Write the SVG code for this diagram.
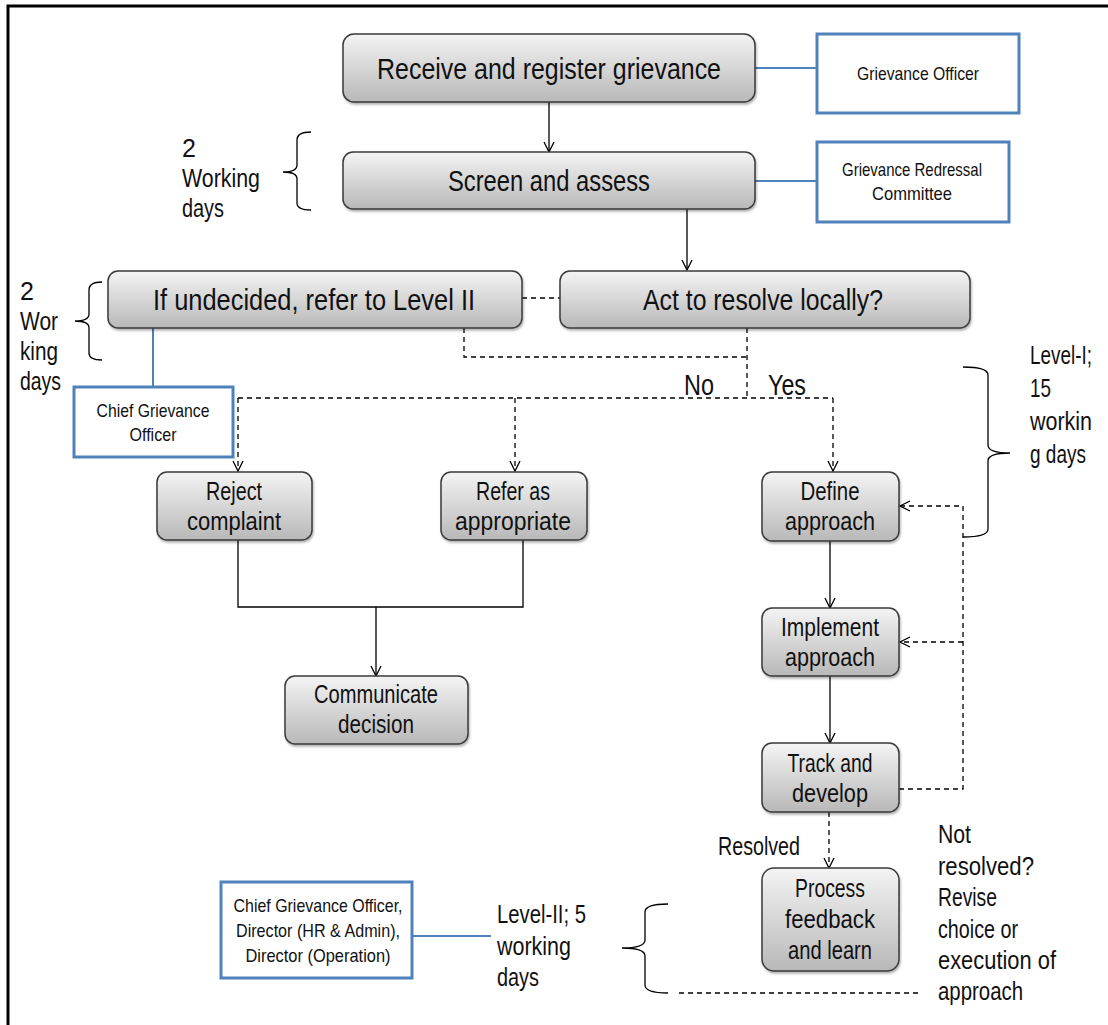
<svg xmlns="http://www.w3.org/2000/svg" width="1108" height="1025" viewBox="0 0 1108 1025">
<defs>
<linearGradient id="g" x1="0" y1="0" x2="0" y2="1">
<stop offset="0" stop-color="#f4f4f4"/>
<stop offset="1" stop-color="#b8b8b8"/>
</linearGradient>
<filter id="sh" x="-5%" y="-5%" width="110%" height="125%">
<feDropShadow dx="1" dy="2" stdDeviation="1.2" flood-color="#000" flood-opacity="0.3"/>
</filter>
<marker id="arr" markerUnits="userSpaceOnUse" markerWidth="14" markerHeight="14" refX="11" refY="6" orient="auto">
<path d="M1,1 L11,6 L1,11" fill="none" stroke="#000" stroke-width="1.3"/>
</marker>
</defs>
<style>
.n{fill:url(#g);stroke:#3a3a3a;stroke-width:1.5;filter:url(#sh)}
.b{fill:#fff;stroke:#4f81bd;stroke-width:3}
.t{font-family:"Liberation Sans",Arial,sans-serif;fill:#111;text-anchor:middle}
.l{font-family:"Liberation Sans",Arial,sans-serif;fill:#111}
.big{font-size:29px}
.mid{font-size:25px}
.sm{font-size:19px}
.lab{font-size:25px}
.s{fill:none;stroke:#000;stroke-width:1.3}
.d{fill:none;stroke:#000;stroke-width:1.3;stroke-dasharray:5,4}
.bl{fill:none;stroke:#4f81bd;stroke-width:2}
.br{fill:none;stroke:#000;stroke-width:1.3}
</style>
<path d="M8,1025 V6 H1108" fill="none" stroke="#000" stroke-width="3"/>

<g id="connectors">
<line class="s" x1="549" y1="102" x2="549" y2="152" marker-end="url(#arr)"/>
<line class="s" x1="687" y1="209" x2="687" y2="270" marker-end="url(#arr)"/>
<line class="bl" x1="755" y1="68" x2="817" y2="68"/>
<line class="bl" x1="755" y1="181" x2="817" y2="181"/>
<line class="bl" x1="153" y1="328" x2="153" y2="387"/>
<line class="bl" x1="412" y1="936" x2="491" y2="936"/>
<line class="d" x1="522" y1="298" x2="560" y2="298"/>
<path class="d" d="M464,328 V357 H747"/>
<line class="d" x1="747" y1="328" x2="747" y2="398"/>
<line class="d" x1="238" y1="398" x2="833" y2="398"/>
<line class="d" x1="238" y1="398" x2="238" y2="471" marker-end="url(#arr)"/>
<line class="d" x1="515" y1="398" x2="515" y2="471" marker-end="url(#arr)"/>
<line class="d" x1="833" y1="398" x2="833" y2="471" marker-end="url(#arr)"/>
<path class="s" d="M238,540 V607 H523 V540"/>
<line class="s" x1="376" y1="607" x2="376" y2="676" marker-end="url(#arr)"/>
<line class="s" x1="830" y1="541" x2="830" y2="608" marker-end="url(#arr)"/>
<line class="s" x1="830" y1="676" x2="830" y2="743" marker-end="url(#arr)"/>
<line class="d" x1="829" y1="812" x2="829" y2="868" marker-end="url(#arr)"/>
<path class="d" d="M899,789 H963 V506 H900" marker-end="url(#arr)"/>
<line class="d" x1="963" y1="642" x2="900" y2="642" marker-end="url(#arr)"/>
<line class="d" x1="679" y1="993" x2="920" y2="993"/>
<path class="br" d="M311,132 Q297,132 297,140 V165 Q297,172 283,172 Q297,172 297,179 V203 Q297,210 311,210"/>
<path class="br" d="M102,282 Q89,282 89,290 V314 Q89,321 75,321 Q89,321 89,328 V353 Q89,360 102,360"/>
<path class="br" d="M963,367 Q988,367 988,375 V445 Q988,453 1010,453 Q988,453 988,461 V529 Q988,537 963,537"/>
<path class="br" d="M668,904 Q645,904 645,912 V940 Q645,948 622,948 Q645,948 645,956 V985 Q645,993 668,993"/>
</g>

<g id="n-receive"><rect class="n" x="343" y="34" width="412" height="68" rx="11"/><text class="t big" x="549" y="79" textLength="344" lengthAdjust="spacingAndGlyphs">Receive and register grievance</text></g>
<g id="n-screen"><rect class="n" x="343" y="152" width="412" height="57" rx="10"/><text class="t big" x="549" y="191" textLength="202" lengthAdjust="spacingAndGlyphs">Screen and assess</text></g>
<g id="n-undecided"><rect class="n" x="108" y="271" width="414" height="57" rx="10"/><text class="t big" x="314" y="310" textLength="322" lengthAdjust="spacingAndGlyphs">If undecided, refer to Level II</text></g>
<g id="n-act"><rect class="n" x="560" y="271" width="410" height="57" rx="10"/><text class="t big" x="763" y="310" textLength="240" lengthAdjust="spacingAndGlyphs">Act to resolve locally?</text></g>
<g id="n-reject"><rect class="n" x="157" y="472" width="155" height="68" rx="10"/><text class="t mid" x="234" y="500" textLength="56" lengthAdjust="spacingAndGlyphs">Reject</text><text class="t mid" x="234" y="530" textLength="94" lengthAdjust="spacingAndGlyphs">complaint</text></g>
<g id="n-refer"><rect class="n" x="441" y="472" width="146" height="68" rx="10"/><text class="t mid" x="513" y="500" textLength="74" lengthAdjust="spacingAndGlyphs">Refer as</text><text class="t mid" x="513" y="530" textLength="116" lengthAdjust="spacingAndGlyphs">appropriate</text></g>
<g id="n-communicate"><rect class="n" x="285" y="676" width="183" height="68" rx="10"/><text class="t mid" x="376" y="703" textLength="124" lengthAdjust="spacingAndGlyphs">Communicate</text><text class="t mid" x="376" y="733" textLength="76" lengthAdjust="spacingAndGlyphs">decision</text></g>
<g id="n-define"><rect class="n" x="762" y="472" width="137" height="69" rx="10"/><text class="t mid" x="830" y="500" textLength="59" lengthAdjust="spacingAndGlyphs">Define</text><text class="t mid" x="830" y="530" textLength="90" lengthAdjust="spacingAndGlyphs">approach</text></g>
<g id="n-implement"><rect class="n" x="762" y="608" width="137" height="68" rx="10"/><text class="t mid" x="830" y="636" textLength="98" lengthAdjust="spacingAndGlyphs">Implement</text><text class="t mid" x="830" y="666" textLength="90" lengthAdjust="spacingAndGlyphs">approach</text></g>
<g id="n-track"><rect class="n" x="762" y="743" width="137" height="69" rx="10"/><text class="t mid" x="830" y="772" textLength="85" lengthAdjust="spacingAndGlyphs">Track and</text><text class="t mid" x="830" y="802" textLength="76" lengthAdjust="spacingAndGlyphs">develop</text></g>
<g id="n-process"><rect class="n" x="762" y="868" width="137" height="103" rx="12"/><text class="t mid" x="830" y="897" textLength="70" lengthAdjust="spacingAndGlyphs">Process</text><text class="t mid" x="830" y="928" textLength="90" lengthAdjust="spacingAndGlyphs">feedback</text><text class="t mid" x="830" y="959" textLength="84" lengthAdjust="spacingAndGlyphs">and learn</text></g>

<g id="b-go"><rect class="b" x="817" y="34" width="202" height="79"/><text class="t sm" x="918" y="80" textLength="122" lengthAdjust="spacingAndGlyphs">Grievance Officer</text></g>
<g id="b-grc"><rect class="b" x="817" y="142" width="192" height="80"/><text class="t sm" x="912" y="176" textLength="140" lengthAdjust="spacingAndGlyphs">Grievance Redressal</text><text class="t sm" x="912" y="200" textLength="80" lengthAdjust="spacingAndGlyphs">Committee</text></g>
<g id="b-cgo"><rect class="b" x="74" y="387" width="159" height="70"/><text class="t sm" x="153" y="417" textLength="113" lengthAdjust="spacingAndGlyphs">Chief Grievance</text><text class="t sm" x="153" y="441" textLength="47" lengthAdjust="spacingAndGlyphs">Officer</text></g>
<g id="b-cgo2"><rect class="b" x="221" y="882" width="191" height="96"/><text class="t sm" x="318" y="912" textLength="169" lengthAdjust="spacingAndGlyphs">Chief Grievance Officer,</text><text class="t sm" x="318" y="937" textLength="164" lengthAdjust="spacingAndGlyphs">Director (HR &amp; Admin),</text><text class="t sm" x="318" y="962" textLength="145" lengthAdjust="spacingAndGlyphs">Director (Operation)</text></g>

<g id="labels">
<text class="l lab" x="182" y="157">2</text>
<text class="l lab" x="182" y="187" textLength="78" lengthAdjust="spacingAndGlyphs">Working</text>
<text class="l lab" x="182" y="217" textLength="42" lengthAdjust="spacingAndGlyphs">days</text>
<text class="l lab" x="20" y="300">2</text>
<text class="l lab" x="20" y="330" textLength="38" lengthAdjust="spacingAndGlyphs">Wor</text>
<text class="l lab" x="20" y="360" textLength="38" lengthAdjust="spacingAndGlyphs">king</text>
<text class="l lab" x="20" y="390" textLength="41" lengthAdjust="spacingAndGlyphs">days</text>
<text class="l" style="font-size:29px" x="684" y="395" textLength="30" lengthAdjust="spacingAndGlyphs">No</text>
<text class="l" style="font-size:29px" x="768" y="395" textLength="38" lengthAdjust="spacingAndGlyphs">Yes</text>
<text class="l lab" x="1030" y="364" textLength="62" lengthAdjust="spacingAndGlyphs">Level-I;</text>
<text class="l lab" x="1030" y="397" textLength="21" lengthAdjust="spacingAndGlyphs">15</text>
<text class="l lab" x="1030" y="430" textLength="62" lengthAdjust="spacingAndGlyphs">workin</text>
<text class="l lab" x="1030" y="463" textLength="56" lengthAdjust="spacingAndGlyphs">g days</text>
<text class="l lab" x="718" y="855" textLength="82" lengthAdjust="spacingAndGlyphs">Resolved</text>
<text class="l lab" x="938" y="843" textLength="33" lengthAdjust="spacingAndGlyphs">Not</text>
<text class="l lab" x="938" y="875" textLength="96" lengthAdjust="spacingAndGlyphs">resolved?</text>
<text class="l lab" x="938" y="906" textLength="59" lengthAdjust="spacingAndGlyphs">Revise</text>
<text class="l lab" x="938" y="938" textLength="80" lengthAdjust="spacingAndGlyphs">choice or</text>
<text class="l lab" x="938" y="969" textLength="118" lengthAdjust="spacingAndGlyphs">execution of</text>
<text class="l lab" x="938" y="1000" textLength="85" lengthAdjust="spacingAndGlyphs">approach</text>
<text class="l lab" x="497" y="923" textLength="89" lengthAdjust="spacingAndGlyphs">Level-II; 5</text>
<text class="l lab" x="497" y="955" textLength="74" lengthAdjust="spacingAndGlyphs">working</text>
<text class="l lab" x="497" y="986" textLength="42" lengthAdjust="spacingAndGlyphs">days</text>
</g>
</svg>
